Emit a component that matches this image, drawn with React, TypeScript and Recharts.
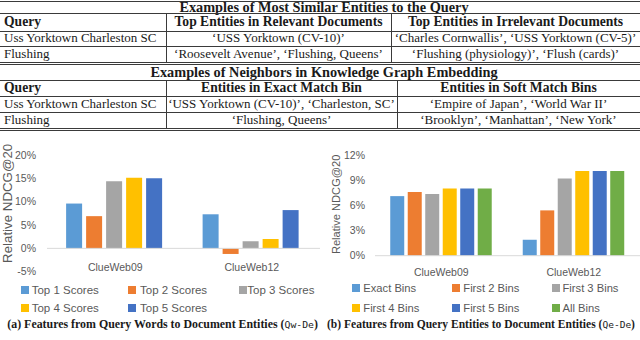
import React from "react";
import { BarChart, Bar, XAxis, YAxis, ReferenceLine, Label } from "recharts";

// ---- table text ----
const topTitle = "Examples of Most Similar Entities to the Query";
const topHeader = ["Query", "Top Entities in Relevant Documents", "Top Entities in Irrelevant Documents"];
const topRows = [
  ["Uss Yorktown Charleston SC", "‘USS Yorktown (CV-10)’", "‘Charles Cornwallis’, ‘USS Yorktown (CV-5)’"],
  ["Flushing", "‘Roosevelt Avenue’, ‘Flushing, Queens’", "‘Flushing (physiology)’, ‘Flush (cards)’"],
];
const bottomTitle = "Examples of Neighbors in Knowledge Graph Embedding";
const bottomHeader = ["Query", "Entities in Exact Match Bin", "Entities in Soft Match Bins"];
const bottomRows = [
  ["Uss Yorktown Charleston SC", "‘USS Yorktown (CV-10)’, ‘Charleston, SC’", "‘Empire of Japan’, ‘World War II’"],
  ["Flushing", "‘Flushing, Queens’", "‘Brooklyn’, ‘Manhattan’, ‘New York’"],
];

// ---- chart data ----
const categories = ["ClueWeb09", "ClueWeb12"];

const wordSeries = ["Top 1 Scores", "Top 2 Scores", "Top 3 Scores", "Top 4 Scores", "Top 5 Scores"];
const wordValues = [
  [9.6, 7.3],
  [6.9, -1.2],
  [14.4, 1.5],
  [15.1, 2.0],
  [15.0, 8.2],
];
const wordTicks = [-5, 0, 5, 10, 15, 20];

const binSeries = ["Exact Bins", "First 2 Bins", "First 3 Bins", "First 4 Bins", "First 5 Bins", "All Bins"];
const binValues = [
  [7.1, 1.9],
  [7.6, 5.4],
  [7.35, 9.2],
  [8.0, 10.1],
  [8.0, 10.1],
  [8.0, 10.1],
];
const binTicks = [0, 3, 6, 9, 12];

const COLORS = ["#5B9BD5", "#ED7D31", "#A5A5A5", "#FFC000", "#4472C4", "#70AD47"];

const SANS = "'Liberation Sans', Arial, sans-serif";
const SERIF = "'Liberation Serif', 'Times New Roman', serif";
const GREY = "#595959";

function buildRows(series: string[], values: number[][]) {
  return categories.map((name, ci) => {
    const row: Record<string, string | number> = { name };
    series.forEach((s, si) => {
      row[s] = values[si][ci];
    });
    return row;
  });
}

const wordData = buildRows(wordSeries, wordValues);
const binData = buildRows(binSeries, binValues);

// ---- table drawing ----
const LINE = "#3a3a3a";
const X0 = 0;
const X1 = 640;
const COL1 = 166;

function HLine({ y, x1 = X0, x2 = X1 }: { y: number; x1?: number; x2?: number }) {
  return <div style={{ position: "absolute", left: x1, top: y, width: x2 - x1, height: 1, background: LINE }} />;
}

function VLine({ x, y1, y2 }: { x: number; y1: number; y2: number }) {
  return <div style={{ position: "absolute", left: x, top: y1, width: 1, height: y2 - y1, background: LINE }} />;
}

function Cell({ text, x, w, cy, size, bold, align }: { text: string; x: number; w: number; cy: number; size: number; bold?: boolean; align: "left" | "center" }) {
  return (
    <div
      style={{
        position: "absolute",
        left: x,
        width: w,
        top: cy - 8,
        height: 16,
        lineHeight: "16px",
        textAlign: align,
        whiteSpace: "nowrap",
        fontFamily: SERIF,
        fontSize: size,
        fontWeight: bold ? 700 : 400,
        color: "#1a1a1a",
      }}
    >
      {text}
    </div>
  );
}

function ExampleTable({
  title,
  header,
  rows,
  col2,
  titleY,
  lines,
  centers,
}: {
  title: string;
  header: string[];
  rows: string[][];
  col2: number;
  titleY: number;
  lines: number[];
  centers: number[];
}) {
  const cols = [
    [X0 + 4, COL1 - X0 - 4],
    [COL1, col2 - COL1],
    [col2, X1 - col2],
  ];
  const all = [header, ...rows];
  return (
    <>
      <Cell text={title} x={X0 + 4} w={X1 - X0} cy={titleY} size={14.3} bold align="center" />
      {lines.map((y) => (
        <HLine key={y} y={y} />
      ))}
      <VLine x={COL1} y1={lines[0]} y2={lines[lines.length - 1]} />
      <VLine x={col2} y1={lines[0]} y2={lines[lines.length - 1]} />
      {all.map((r, ri) =>
        r.map((t, ci) => (
          <Cell
            key={`${ri}-${ci}`}
            text={t}
            x={cols[ci][0]}
            w={cols[ci][1]}
            cy={centers[ri]}
            size={ri === 0 ? 13.6 : 13}
            bold={ri === 0}
            align={ci === 0 ? "left" : "center"}
          />
        ))
      )}
    </>
  );
}

// ---- legend + caption ----
function ChartLegend({ series, cols, texts, rows, size }: { series: string[]; cols: number[]; texts: number[]; rows: number[]; size: number }) {
  return (
    <>
      {series.map((s, i) => {
        const c = i % 3;
        const r = Math.floor(i / 3);
        return (
          <React.Fragment key={s}>
            <div style={{ position: "absolute", left: cols[c], top: rows[r] - 4, width: 8, height: 8, background: COLORS[i] }} />
            <div
              style={{
                position: "absolute",
                left: texts[c],
                top: rows[r] - 8,
                height: 16,
                lineHeight: "16px",
                whiteSpace: "nowrap",
                fontFamily: SANS,
                fontSize: size,
                color: GREY,
              }}
            >
              {s}
            </div>
          </React.Fragment>
        );
      })}
    </>
  );
}

function Caption({ x, width, baseline, label, code }: { x: number; width: number; baseline: number; label: string; code: string }) {
  return (
    <svg style={{ position: "absolute", left: 0, top: 0 }} width={640} height={340}>
      <text x={x} y={baseline} textLength={width} lengthAdjust="spacingAndGlyphs" fontFamily={SERIF} fontWeight={700} fontSize={11.5} fill="#1a1a1a">
        {label} (
        <tspan fontFamily="'DejaVu Sans Mono', 'Liberation Mono', monospace" fontSize={9.5} fontWeight={400}>
          {code}
        </tspan>
        )
      </text>
    </svg>
  );
}

const CatTick = ({ x, y, payload, offset }: any) => (
  <text x={x} y={y + offset} textAnchor="middle" fill={GREY} fontFamily={SANS} fontSize={10.5}>
    {payload.value}
  </text>
);

export default function App() {
  return (
    <div style={{ position: "absolute", left: 0, top: 0, width: 640, height: 340, background: "#fff", overflow: "hidden" }}>
      <HLine y={1} />
      <ExampleTable
        title={topTitle}
        header={topHeader}
        rows={topRows}
        col2={391}
        titleY={6.5}
        lines={[12.5, 30.5, 46, 61.5]}
        centers={[21.5, 38.3, 53.8]}
      />
      <HLine y={64} />
      <ExampleTable
        title={bottomTitle}
        header={bottomHeader}
        rows={bottomRows}
        col2={397}
        titleY={72.3}
        lines={[80, 96, 112, 127.5]}
        centers={[88, 104, 119.8]}
      />
      <HLine y={130} />

      {/* (a) query words -> document entities */}
      <div style={{ position: "absolute", left: 0, top: 140 }}>
        <BarChart width={322} height={150} data={wordData} margin={{ top: 15, right: 2, bottom: 0, left: 0 }} barCategoryGap="14%" barGap={4}>
          <XAxis
            dataKey="name"
            axisLine={false}
            tickLine={false}
            tickSize={0}
            tickMargin={0}
            height={18.3}
            tick={(p: any) => <CatTick {...p} offset={-1.2} />}
          />
          <YAxis
            width={47}
            domain={[-5, 20]}
            ticks={wordTicks}
            interval={0}
            axisLine={false}
            tickLine={false}
            tickSize={0}
            tickMargin={11}
            tickFormatter={(v: number) => `${v}%`}
            tick={{ fill: GREY, fontFamily: SANS, fontSize: 10.5 }}
          >
            <Label value="Relative NDCG@20" angle={-90} position="center" dx={-16} dy={-10} fill={GREY} fontFamily={SANS} fontSize={13.3} />
          </YAxis>
          {wordSeries.map((s, i) => (
            <Bar key={s} dataKey={s} fill={COLORS[i]} isAnimationActive={false} />
          ))}
          <ReferenceLine y={0} stroke="#d9d9d9" />
        </BarChart>
      </div>

      {/* (b) query entities -> document entities */}
      <div style={{ position: "absolute", left: 320, top: 140 }}>
        <BarChart width={320} height={150} data={binData} margin={{ top: 15, right: 0, bottom: 0, left: 0 }} barCategoryGap="11.5%" barGap={3.5}>
          <XAxis
            dataKey="name"
            axisLine={{ stroke: "#d9d9d9" }}
            tickLine={false}
            tickSize={0}
            tickMargin={0}
            height={34.3}
            tick={(p: any) => <CatTick {...p} offset={19.8} />}
          />
          <YAxis
            width={55}
            domain={[0, 12]}
            ticks={binTicks}
            interval={0}
            axisLine={false}
            tickLine={false}
            tickSize={0}
            tickMargin={10}
            tickFormatter={(v: number) => `${v}%`}
            tick={{ fill: GREY, fontFamily: SANS, fontSize: 10.5 }}
          >
            <Label value="Relative NDCG@20" angle={-90} position="center" dx={-11.5} dy={-1} fill={GREY} fontFamily={SANS} fontSize={11.1} />
          </YAxis>
          {binSeries.map((s, i) => (
            <Bar key={s} dataKey={s} fill={COLORS[i]} isAnimationActive={false} />
          ))}
        </BarChart>
      </div>

      <ChartLegend series={wordSeries} cols={[21, 128.3, 239.3]} texts={[31.7, 140, 247.3]} rows={[290, 308.3]} size={11.5} />
      <ChartLegend series={binSeries} cols={[352, 452.3, 551.7]} texts={[363.3, 463.3, 562.5]} rows={[288.3, 308.3]} size={11.2} />

      <Caption x={7.3} width={310.7} baseline={328} label="(a) Features from Query Words to Document Entities" code="Qw-De" />
      <Caption x={327} width={308} baseline={328} label="(b) Features from Query Entities to Document Entities" code="Qe-De" />
    </div>
  );
}
